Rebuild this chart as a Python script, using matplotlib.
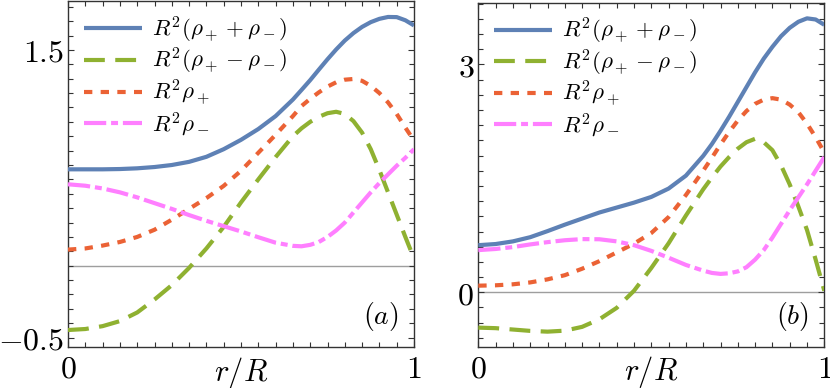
import numpy as np
import matplotlib.pyplot as plt
from matplotlib.ticker import MultipleLocator, FixedLocator, FixedFormatter

plt.rcParams['mathtext.fontset'] = 'cm'
plt.rcParams['font.family'] = ['DejaVu Serif']
plt.rcParams['lines.scale_dashes'] = False

r = [0.0, 0.05, 0.1, 0.15, 0.2, 0.25, 0.3, 0.35, 0.4, 0.45, 0.5, 0.55, 0.6, 0.65,
     0.675, 0.7, 0.725, 0.75, 0.775, 0.8, 0.825, 0.85, 0.875, 0.9, 0.925, 0.95, 0.975, 1.0]

# panel (a)
a_sum = [0.67, 0.67, 0.67, 0.672, 0.677, 0.686, 0.70, 0.722, 0.757, 0.81, 0.875, 0.95, 1.04, 1.155,
         1.222, 1.29, 1.363, 1.435, 1.503, 1.565, 1.617, 1.66, 1.693, 1.716, 1.729, 1.728, 1.706, 1.67]
a_diff = [-0.447, -0.44, -0.42, -0.385, -0.325, -0.235, -0.135, -0.015, 0.12, 0.27, 0.44, 0.60, 0.755, 0.90,
          0.955, 1.0, 1.035, 1.06, 1.07, 1.055, 1.005, 0.925, 0.81, 0.665, 0.51, 0.355, 0.2, 0.05]
a_plus = [0.112, 0.12, 0.14, 0.165, 0.20, 0.25, 0.32, 0.395, 0.47, 0.555, 0.66, 0.785, 0.91, 1.04,
          1.11, 1.16, 1.205, 1.245, 1.275, 1.293, 1.298, 1.285, 1.25, 1.2, 1.135, 1.055, 0.96, 0.87]
a_minus = [0.566, 0.556, 0.537, 0.51, 0.475, 0.435, 0.395, 0.352, 0.312, 0.275, 0.238, 0.198, 0.16, 0.138,
           0.135, 0.145, 0.165, 0.2, 0.245, 0.3, 0.37, 0.44, 0.51, 0.575, 0.635, 0.695, 0.75, 0.81]

# panel (b)
b_sum = [0.62, 0.635, 0.67, 0.725, 0.805, 0.89, 0.97, 1.05, 1.115, 1.18, 1.255, 1.365, 1.535, 1.795,
         1.95, 2.125, 2.31, 2.505, 2.7, 2.895, 3.075, 3.23, 3.37, 3.48, 3.56, 3.605, 3.59, 3.52]
b_diff = [-0.465, -0.472, -0.49, -0.508, -0.518, -0.505, -0.455, -0.355, -0.205, 0.02, 0.32, 0.645, 1.01, 1.355,
          1.51, 1.655, 1.78, 1.89, 1.975, 2.02, 1.975, 1.87, 1.67, 1.42, 1.13, 0.82, 0.43, 0.02]
b_plus = [0.087, 0.092, 0.105, 0.13, 0.17, 0.225, 0.31, 0.41, 0.525, 0.64, 0.78, 0.99, 1.28, 1.6,
          1.77, 1.945, 2.11, 2.26, 2.385, 2.48, 2.535, 2.555, 2.535, 2.47, 2.37, 2.22, 2.04, 1.84]
b_minus = [0.555, 0.57, 0.595, 0.63, 0.66, 0.685, 0.70, 0.698, 0.67, 0.62, 0.545, 0.455, 0.36, 0.285,
           0.255, 0.242, 0.25, 0.275, 0.33, 0.43, 0.555, 0.72, 0.9, 1.08, 1.25, 1.42, 1.6, 1.78]

labels = [r'$R^2(\rho_+ + \rho_-)$', r'$R^2(\rho_+ - \rho_-)$',
          r'$R^2\rho_+$', r'$R^2\rho_-$']
colors = ['#5E81B5', '#8FB131', '#EB6235', '#FF7FFF']
dashes = [None, (15, 7.5), (6, 6), (16, 3.5, 5, 3.5)]
legend_rows = [0.918, 0.826, 0.735, 0.644]

fig = plt.figure(figsize=(8.3, 3.88), dpi=100)
ax_a = fig.add_axes([68 / 830, 41 / 388, 346 / 830, 346 / 388])
ax_b = fig.add_axes([478.3 / 830, 41.3 / 388, 346 / 830, 343.7 / 388])


def draw(ax, series, ylim, ymajor, ystep, tag):
    ax.axhline(0, color='0.62', lw=1.0, zorder=1)
    lines = []
    for y, c, d, lab in zip(series, colors, dashes, labels):
        line, = ax.plot(r, y, color=c, lw=3.0, label=lab, zorder=3,
                        solid_capstyle='butt', solid_joinstyle='round')
        if d is not None:
            line.set_dashes(d)
        lines.append(line)
    ax.set_xlim(0, 1)
    ax.set_ylim(*ylim)

    ax.xaxis.set_major_locator(FixedLocator([0, 1]))
    ax.xaxis.set_major_formatter(FixedFormatter(['$0$', '$1$']))
    ax.xaxis.set_minor_locator(MultipleLocator(0.05))
    ax.yaxis.set_major_locator(FixedLocator(ymajor))
    ax.yaxis.set_major_formatter(FixedFormatter(['$%g$' % v for v in ymajor]))
    ax.yaxis.set_minor_locator(MultipleLocator(ystep))

    ax.tick_params(which='both', direction='in', top=True, right=True,
                   color='0.2', width=0.8, labelsize=23)
    ax.tick_params(axis='x', pad=5)
    ax.tick_params(axis='y', pad=3)
    ax.tick_params(which='major', length=4.5)
    ax.tick_params(which='minor', length=3.3)
    for s in ax.spines.values():
        s.set_color('0.2')
        s.set_linewidth(1.0)

    ax.set_xlabel('$r/R$', fontsize=22)
    ax.xaxis.set_label_coords(0.5, -0.022)
    ax.text(0.955, 0.04, tag, transform=ax.transAxes, fontsize=20,
            ha='right', va='bottom')

    # one legend per entry so the rows are evenly spaced
    for i, (line, yc) in enumerate(zip(lines, legend_rows)):
        leg = ax.legend(handles=[line], loc='center left',
                        bbox_to_anchor=(0.045, yc), frameon=False,
                        fontsize=16.5, handlelength=2.55, handletextpad=0.42,
                        borderpad=0, borderaxespad=0)
        if i < len(lines) - 1:
            ax.add_artist(leg)


draw(ax_a, [a_sum, a_diff, a_plus, a_minus], (-0.565, 1.84), [-0.5, 1.5], 0.1, '$(a)$')
draw(ax_b, [b_sum, b_diff, b_plus, b_minus], (-0.716, 3.807), [0, 3], 0.2, '$(b)$')

plt.savefig('out.png', dpi=100)
